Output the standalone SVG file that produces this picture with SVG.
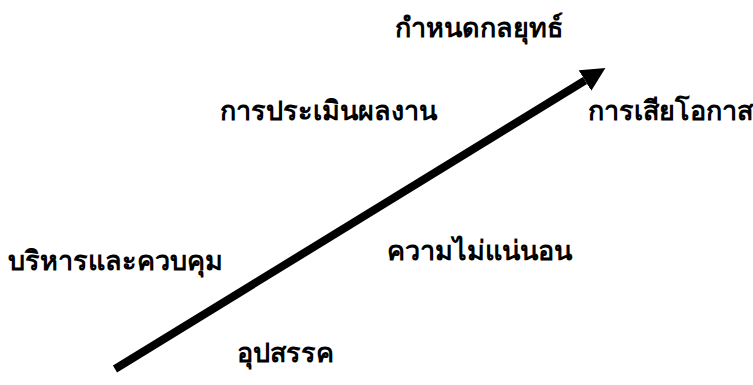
<svg xmlns="http://www.w3.org/2000/svg" width="753" height="385" viewBox="0 0 753 385">
<style>
.t{font-family:"Noto Sans","DejaVu Sans",sans-serif;font-weight:bold;font-size:27px;fill:#000}
</style>
<defs>
<marker id="ah" viewBox="0 0 10 10" refX="0" refY="5" markerWidth="3" markerHeight="3" markerUnits="strokeWidth" orient="auto">
<path d="M0,0 L10,5 L0,10 Z" fill="#000"/>
</marker>
</defs>
<rect width="753" height="385" fill="#fff"/>
<g id="connectors">
<line x1="115" y1="369" x2="585" y2="80.5" stroke="#000" stroke-width="8" marker-end="url(#ah)"/>
</g>
<g id="n1"><text class="t" x="395" y="37">กำหนดกลยุทธ์</text></g>
<g id="n2"><text class="t" x="220" y="120">การประเมินผลงาน</text></g>
<g id="n3"><text class="t" x="588" y="120">การเสียโอกาส</text></g>
<g id="n4"><text class="t" x="387" y="260">ความไม่แน่นอน</text></g>
<g id="n5"><text class="t" x="8" y="270">บริหารและควบคุม</text></g>
<g id="n6"><text class="t" x="237" y="362">อุปสรรค</text></g>
</svg>
